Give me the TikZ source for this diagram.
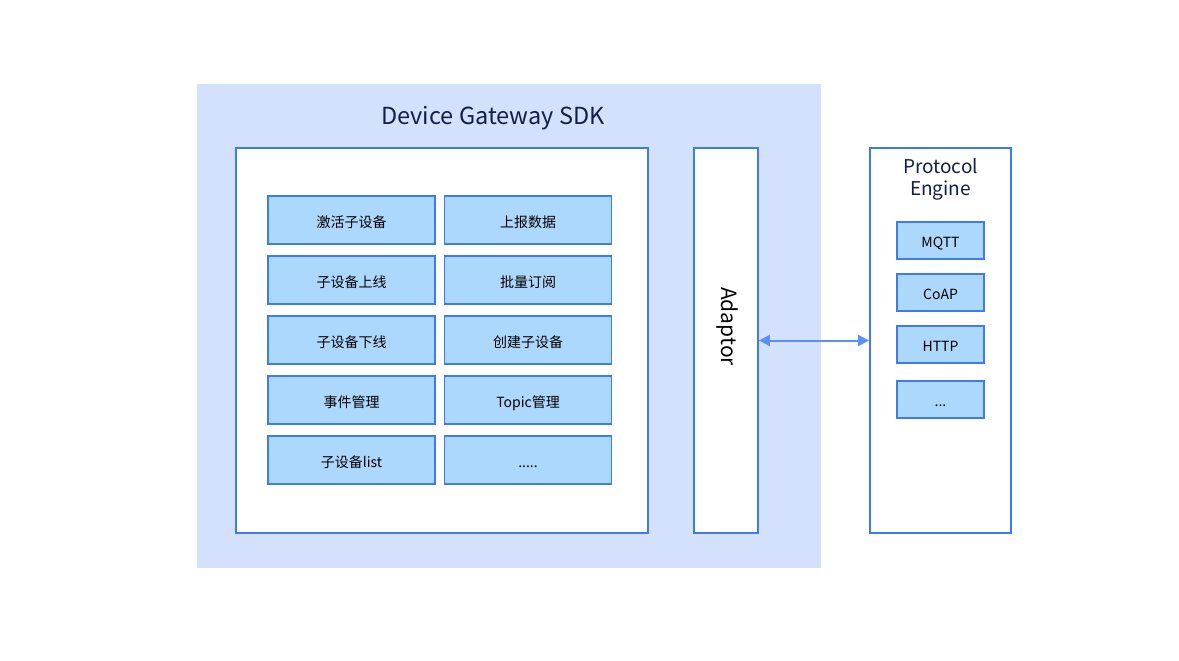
\documentclass[tikz,border=0pt]{standalone}
\usepackage{fontspec}
\setmainfont{Noto Sans CJK SC}
\usetikzlibrary{arrows.meta}
\definecolor{bgblue}{HTML}{D4E1FD}
\definecolor{lineblue}{HTML}{3D7BF5}
\definecolor{cellblue}{HTML}{ADD8FD}
\definecolor{arrowblue}{HTML}{5B8FF9}
\definecolor{navy}{HTML}{141E4A}
\begin{document}
\begin{tikzpicture}[x=1pt,y=-1pt,
  frame/.style={draw=lineblue,line width=1.8pt,fill=white},
  cell/.style={draw=lineblue,line width=1.8pt,fill=cellblue,font=\fontsize{14}{16}\selectfont,text=black,minimum width=167pt,minimum height=48pt,text height=15pt,text depth=0.6pt,inner sep=0pt},
  pcell/.style={cell,minimum width=87pt,minimum height=37pt},
  big/.style={font=\fontsize{19}{22}\selectfont,text=navy}]
\useasboundingbox (0,0) rectangle (1179,661);
\fill[bgblue] (197,84) rectangle (821,568);
\node[font=\fontsize{23.5}{28}\selectfont,text=navy] (title) at (493,118.5) {Device Gateway SDK};
\draw[frame] (236,148) rectangle (648,533);
% grid cells
\node[cell] (a1) at (351.5,220) {激活子设备};
\node[cell] (a2) at (351.5,280) {子设备上线};
\node[cell] (a3) at (351.5,340) {子设备下线};
\node[cell] (a4) at (351.5,400) {事件管理};
\node[cell] (a5) at (351.5,460) {子设备list};
\node[cell] (b1) at (528,220) {上报数据};
\node[cell] (b2) at (528,280) {批量订阅};
\node[cell] (b3) at (528,340) {创建子设备};
\node[cell] (b4) at (528,400) {Topic管理};
\node[cell] (b5) at (528,460) {.....};
% adaptor
\node[frame,minimum width=64pt,minimum height=385pt] (adaptor) at (726,340.5) {};
\node[font=\fontsize{21}{24}\selectfont,text=black,rotate=-90] (adlabel) at (727.5,326.5) {Adaptor};
% protocol engine
\node[frame,minimum width=141pt,minimum height=385pt] (engine) at (940.5,340.5) {};
\node[big,align=center] (pelabel) at (940.5,179) {Protocol\\Engine};
\node[pcell] (p1) at (940.5,240.5) {MQTT};
\node[pcell] (p2) at (940.5,292.5) {CoAP};
\node[pcell] (p3) at (940.5,344.5) {HTTP};
\node[pcell] (p4) at (940.5,399.5) {...};
% arrow
\draw[arrowblue,line width=2pt,{Triangle[length=11pt,width=11pt]}-{Triangle[length=11pt,width=11pt]}] (adaptor.east) -- (engine.west);
\end{tikzpicture}
\end{document}
